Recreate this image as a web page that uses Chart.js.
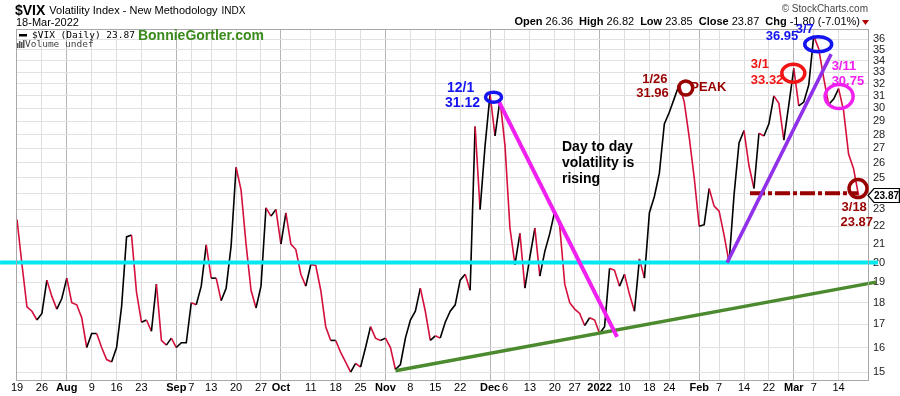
<!DOCTYPE html>
<html>
<head>
<meta charset="utf-8">
<script src="https://cdn.jsdelivr.net/npm/chart.js@4.4.1/dist/chart.umd.min.js"></script>
<style>
  html, body { margin: 0; padding: 0; background: #fff; }
  #wrap { width: 900px; height: 396px; }
</style>
</head>
<body>
<div id="wrap"><canvas id="chart-vix" width="900" height="396"></canvas></div>
<script>
  // trading days, one row per month
  const MONTHS = ['2021-07', '2021-08', '2021-09', '2021-10', '2021-11', '2021-12', '2022-01', '2022-02', '2022-03'];
  const DAYS = [
    [19, 20, 21, 22, 23, 26, 27, 28, 29, 30],
    [2, 3, 4, 5, 6, 9, 10, 11, 12, 13, 16, 17, 18, 19, 20, 23, 24, 25, 26, 27, 30, 31],
    [1, 2, 3, 7, 8, 9, 10, 13, 14, 15, 16, 17, 20, 21, 22, 23, 24, 27, 28, 29, 30],
    [1, 4, 5, 6, 7, 8, 11, 12, 13, 14, 15, 18, 19, 20, 21, 22, 25, 26, 27, 28, 29],
    [1, 2, 3, 4, 5, 8, 9, 10, 11, 12, 15, 16, 17, 18, 19, 22, 23, 24, 26, 29, 30],
    [1, 2, 3, 6, 7, 8, 9, 10, 13, 14, 15, 16, 17, 20, 21, 22, 23, 27, 28, 29, 30, 31],
    [3, 4, 5, 6, 7, 10, 11, 12, 13, 14, 18, 19, 20, 21, 24, 25, 26, 27, 28, 31],
    [1, 2, 3, 4, 7, 8, 9, 10, 11, 14, 15, 16, 17, 18, 22, 23, 24, 25, 28],
    [1, 2, 3, 4, 7, 8, 9, 10, 11, 14, 15, 16, 17, 18],
  ];

  // $VIX daily close, same order as the days above
  const vixClose = [
    22.4, 19.9, 17.8, 17.6, 17.2, 17.5, 19.1, 18.3, 17.7, 18.2,
    19.2, 18.0, 17.9, 17.3, 16.0, 16.6, 16.6, 16.0, 15.5, 15.4, 16.0, 17.8, 21.4, 21.5, 18.5, 17.1, 17.2, 16.7, 18.9, 16.3, 16.1, 16.4,
    16.0, 16.2, 16.2, 18.0, 17.9, 18.8, 20.95, 19.2, 19.2, 18.1, 18.7, 20.9, 25.7, 24.2, 21.0, 18.6, 17.75, 18.8, 23.1, 22.6, 23.0,
    21.0, 22.8, 21.0, 20.7, 19.4, 18.8, 19.9, 19.85, 18.6, 16.9, 16.3, 16.3, 15.8, 15.4, 15.0, 15.35, 15.2, 16.0, 16.9, 16.4, 16.3,
    16.4, 16.0, 15.1, 15.3, 16.4, 17.2, 17.6, 18.7, 17.6, 16.3, 16.5, 16.4, 17.1, 17.6, 17.9, 19.1, 19.4, 18.6, 28.6, 23.0, 27.2,
    31.12, 27.9, 30.7, 27.2, 21.9, 19.9, 21.6, 18.7, 20.3, 21.9, 19.3, 20.6, 21.6, 22.9, 22.0, 18.9, 18.0, 17.7, 17.5, 16.95, 17.3, 17.2,
    16.6, 16.9, 19.7, 19.6, 18.8, 19.4, 18.4, 17.6, 20.2, 19.2, 22.8, 23.8, 25.3, 28.8, 29.7, 30.8, 31.96, 30.5, 27.8, 25.0,
    22.0, 22.1, 24.3, 23.2, 22.9, 21.5, 20.0, 23.9, 27.4, 28.3, 25.8, 24.3, 28.1, 27.9, 28.8, 31.0, 30.4, 27.6, 30.3,
    33.32, 30.2, 30.5, 31.9, 36.3, 35.1, 32.5, 30.3, 30.75, 31.6, 29.8, 26.6, 25.6, 23.87,
  ];

  // x axis labels, placed on the day index they belong to
  const tickIndex = [0, 5, 10, 15, 20, 25, 32, 35, 39, 44, 49, 53, 59, 64, 69, 74, 79, 84, 89, 95, 98, 103, 108, 112, 117, 122, 127, 131, 137, 141, 146, 151, 156, 160, 165];
  const tickText = ['19', '26', 'Aug', '9', '16', '23', 'Sep', '7', '13', '20', '27', 'Oct', '11', '18', '25', 'Nov', '8', '15', '22', 'Dec', '6', '13', '20', '27', '2022', '10', '18', '24', 'Feb', '7', '14', '22', 'Mar', '7', '14'];
  const monthText = ['Aug', 'Sep', 'Oct', 'Nov', 'Dec', '2022', 'Feb', 'Mar'];
  const yTicks = [15, 16, 17, 18, 19, 20, 21, 22, 23, 24, 25, 26, 27, 28, 29, 30, 31, 32, 33, 34, 35, 36];

  // hand drawn lines, as (day index, value)
  const level20 = [{ x: -3.4, y: 20 }, { x: 172.9, y: 20 }];
  const supportLine = [{ x: 76, y: 15.05 }, { x: 172.5, y: 19.0 }];
  const fallLine = [{ x: 96.6, y: 30.67 }, { x: 120.5, y: 16.45 }];
  const riseLine = [{ x: 142.6, y: 20.0 }, { x: 163.5, y: 34.6 }];
  const floorLine = [{ x: 147.2, y: 24.0 }, { x: 168.9, y: 24.0 }];

  const dates = MONTHS.flatMap((m, k) => DAYS[k].map((d) => m + '-' + String(d).padStart(2, '0')));

  const BLUE = '#1414f0';
  const DARK_RED = '#990000';
  const RED = '#f01414';
  const MAGENTA = '#f020f0';
  const PURPLE = '#9030e8';
  const UP = '#000000';
  const DOWN = '#d4103c';
  const SANS = '"Liberation Sans", Arial, sans-serif';
  const MONO = '"DejaVu Sans Mono", monospace';

  const rings = [
    { i: 95.7, v: 30.9, rx: 8, ry: 5, color: BLUE },
    { i: 134.3, v: 31.65, rx: 7, ry: 7, color: DARK_RED },
    { i: 155.9, v: 32.9, rx: 11.5, ry: 9, color: RED },
    { i: 160.9, v: 35.5, rx: 13.5, ry: 7.5, color: BLUE },
    { i: 165.1, v: 30.95, rx: 14, ry: 12, color: MAGENTA },
    { i: 168.9, v: 24.3, rx: 9, ry: 9, color: DARK_RED },
  ];

  const notes = [
    { i: 95, v: 31.12, dx: -43, dy: -6, text: '12/1', color: BLUE, size: 14 },
    { i: 95, v: 31.12, dx: -45, dy: 9, text: '31.12', color: BLUE, size: 14 },
    { i: 133, v: 31.96, dx: -37, dy: -5, text: '1/26', color: DARK_RED, size: 13 },
    { i: 133, v: 31.96, dx: -43, dy: 9, text: '31.96', color: DARK_RED, size: 13 },
    { i: 133, v: 31.96, dx: 11, dy: 3, text: 'PEAK', color: DARK_RED, size: 13 },
    { i: 156, v: 33.32, dx: -43, dy: -4, text: '3/1', color: RED, size: 13 },
    { i: 156, v: 33.32, dx: -43, dy: 12, text: '33.32', color: RED, size: 13 },
    { i: 160, v: 36.3, dx: -48, dy: 1, text: '36.95', color: BLUE, size: 13 },
    { i: 160, v: 36.3, dx: -18, dy: -6, text: '3/7', color: BLUE, size: 13 },
    { i: 164, v: 30.75, dx: -2, dy: -33, text: '3/11', color: MAGENTA, size: 13 },
    { i: 164, v: 30.75, dx: -2, dy: -18, text: '30.75', color: MAGENTA, size: 13 },
    { i: 169, v: 23.87, dx: -17, dy: 12, text: '3/18', color: DARK_RED, size: 13 },
    { i: 169, v: 23.87, dx: -18, dy: 27, text: '23.87', color: DARK_RED, size: 13 },
  ];

  function text(ctx, str, x, y, font, color, align) {
    ctx.font = font;
    ctx.fillStyle = color;
    ctx.textAlign = align || 'left';
    ctx.textBaseline = 'middle';
    ctx.fillText(str, x, y);
    return ctx.measureText(str).width;
  }

  const decor = {
    id: 'decor',
    beforeDraw(chart) {
      const ctx = chart.ctx;
      ctx.save();
      ctx.fillStyle = '#fff';
      ctx.fillRect(0, 0, chart.width, chart.height);
      ctx.restore();
    },
    afterDraw(chart) {
      const ctx = chart.ctx;
      const xs = chart.scales.x;
      const ys = chart.scales.y;
      const area = chart.chartArea;
      ctx.save();

      // header
      let w = text(ctx, '$VIX', 15, 11, 'bold 14px ' + SANS, '#000');
      w += text(ctx, 'Volatility Index - New Methodology', 15 + w + 4, 11, '11px ' + SANS, '#000');
      text(ctx, 'INDX', 15 + w + 8, 11, '10px ' + SANS, '#000');
      text(ctx, '18-Mar-2022', 16, 23, '11px ' + SANS, '#000');
      text(ctx, '\u00a9 StockCharts.com', 868, 9, '10px ' + SANS, '#444', 'right');

      const quote = [['Chg', ' -1.80 (-7.01%)'], ['Close', ' 23.87'], ['Low', ' 23.85'], ['High', ' 26.82'], ['Open', ' 26.36']];
      let qx = 860;
      ctx.fillStyle = '#b00000';
      ctx.beginPath();
      ctx.moveTo(862, 20); ctx.lineTo(869, 20); ctx.lineTo(865.5, 25); ctx.closePath();
      ctx.fill();
      quote.forEach(([label, val]) => {
        qx -= text(ctx, val, qx, 22, '11px ' + SANS, '#000', 'right');
        qx -= text(ctx, label, qx, 22, 'bold 11px ' + SANS, '#000', 'right');
        qx -= 6;
      });

      // chart frame
      ctx.strokeStyle = '#a8a8a8';
      ctx.lineWidth = 1;
      ctx.strokeRect(area.left + 0.5, area.top + 0.5, area.right - area.left, area.bottom - area.top);

      // legend inside the plot
      ctx.fillStyle = '#000';
      ctx.fillRect(19, 34, 8, 2.5);
      const lw = text(ctx, '$VIX (Daily) 23.87', 32, 35.5, '9.5px ' + MONO, '#000');
      text(ctx, 'BonnieGortler.com', 32 + lw + 3, 36, 'bold 14px ' + SANS, '#3a8a1c');
      ctx.fillStyle = '#555';
      [[17, 43], [19, 41], [21, 42], [23, 40]].forEach(([bx, by]) => ctx.fillRect(bx, by, 1.5, 48 - by));
      text(ctx, 'Volume undef', 25, 45, '9.5px ' + MONO, '#444');

      // rings around the key closes
      ctx.lineWidth = 3.5;
      rings.forEach((r) => {
        ctx.strokeStyle = r.color;
        ctx.beginPath();
        ctx.ellipse(xs.getPixelForValue(r.i), ys.getPixelForValue(r.v), r.rx, r.ry, 0, 0, Math.PI * 2);
        ctx.stroke();
      });

      notes.forEach((n) => {
        const px = xs.getPixelForValue(n.i) + n.dx;
        const py = ys.getPixelForValue(n.v) + n.dy;
        text(ctx, n.text, px, py, 'bold ' + n.size + 'px ' + SANS, n.color);
      });

      ['Day to day', 'volatility is', 'rising'].forEach((line, k) => {
        text(ctx, line, 562, 147 + k * 16, 'bold 14px ' + SANS, '#000');
      });

      // last price badge on the axis
      const last = vixClose[vixClose.length - 1];
      const by = Math.round(ys.getPixelForValue(last)) + 0.5;
      ctx.beginPath();
      ctx.moveTo(area.right, by);
      ctx.lineTo(area.right + 6, by - 7);
      ctx.lineTo(899.4, by - 7);
      ctx.lineTo(899.4, by + 7);
      ctx.lineTo(area.right + 6, by + 7);
      ctx.closePath();
      ctx.fillStyle = '#fff';
      ctx.fill();
      ctx.strokeStyle = '#000';
      ctx.lineWidth = 1.2;
      ctx.stroke();
      text(ctx, last.toFixed(2), 899, by + 0.5, 'bold 10px ' + SANS, '#000', 'right');

      ctx.restore();
    },
  };

  function trend(data, color, width, extra = {}) {
    return Object.assign({
      data,
      borderColor: color,
      borderWidth: width,
      pointRadius: 0,
      tension: 0,
      fill: false,
    }, extra);
  }

  new Chart(document.getElementById('chart-vix'), {
    type: 'line',
    data: {
      datasets: [
        trend(fallLine, MAGENTA, 4),
        trend(riseLine, PURPLE, 3.5),
        trend(floorLine, DARK_RED, 4, { borderDash: [15, 3, 4, 3] }),
        trend(supportLine, '#4b8a2e', 3.5, { clip: false }),
        trend(level20, '#00e8f0', 4, { clip: false }),
        {
          label: '$VIX',
          data: vixClose.map((v, i) => ({ x: i, y: v, date: dates[i] })),
          borderColor: UP,
          borderWidth: 1.6,
          pointRadius: 0,
          tension: 0,
          segment: {
            borderColor: (ctx) => (ctx.p1.parsed.y < ctx.p0.parsed.y ? DOWN : UP),
          },
        },
      ],
    },
    options: {
      responsive: false,
      animation: false,
      layout: { padding: { top: 29, left: 16, right: 0, bottom: 0 } },
      plugins: { legend: { display: false }, tooltip: { enabled: false } },
      scales: {
        x: {
          type: 'linear',
          min: -0.2,
          max: 170.9,
          afterBuildTicks: (s) => { s.ticks = tickIndex.map((v) => ({ value: v })); },
          afterFit: (s) => { s.height = 16; },
          ticks: {
            autoSkip: false,
            maxRotation: 0,
            padding: 1,
            color: '#000',
            font: (ctx) => {
              const label = tickText[tickIndex.indexOf(ctx.tick && ctx.tick.value)];
              return { family: SANS, size: 11, weight: monthText.includes(label) ? 'bold' : 'normal' };
            },
            callback: (v) => tickText[tickIndex.indexOf(v)],
          },
          grid: {
            drawTicks: false,
            color: (ctx) => (monthText.includes(tickText[tickIndex.indexOf(ctx.tick && ctx.tick.value)]) ? '#b4b4b4' : '#dedede'),
          },
          border: { color: '#a8a8a8' },
        },
        y: {
          type: 'logarithmic',
          position: 'right',
          min: 14.69,
          max: 36.96,
          afterBuildTicks: (s) => { s.ticks = yTicks.map((v) => ({ value: v })); },
          afterFit: (s) => { s.width = 32; },
          ticks: {
            padding: 5,
            color: '#222',
            font: { family: SANS, size: 11 },
            callback: (v) => String(v),
          },
          grid: { drawTicks: false, color: '#e2e2e2' },
          border: { color: '#a8a8a8' },
        },
      },
    },
    plugins: [decor],
  });
</script>
</body>
</html>
